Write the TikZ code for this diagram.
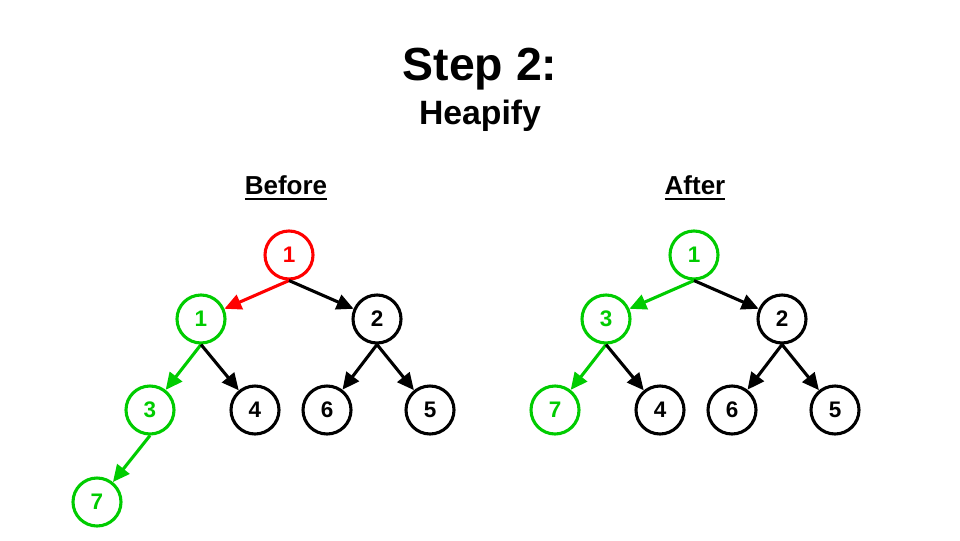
\documentclass[tikz,border=0pt]{standalone}
\usepackage{fontspec}
\setmainfont{Liberation Sans}
\usetikzlibrary{arrows.meta}

\definecolor{hgreen}{RGB}{0,204,0}
\definecolor{hred}{RGB}{255,0,0}

% thick underline for the column titles
\newcommand\thickul[1]{\setbox0\hbox{#1}\rlap{\rule[-3.6pt]{\wd0}{1.4pt}}\box0}

\begin{document}
\begin{tikzpicture}[line width=2.2pt, font=\bfseries]
        \useasboundingbox (0,0) rectangle (24,13.5);

        \node (title)  at (12,11.78)    {\fontsize{33}{38}\selectfont Step 2:};
        \node (sub)    at (12,10.6)      {\fontsize{24}{28}\selectfont Heapify};
        \node (before) at (7.15,8.8)   {\fontsize{18.5}{22}\selectfont\thickul{Before}};
        \node (after)  at (17.375,8.8) {\fontsize{18.5}{22}\selectfont\thickul{After}};

        \begin{scope}[every node/.style={circle,draw,inner sep=0pt,minimum size=1.2cm,font=\bfseries\fontsize{16}{19}\selectfont}]
          % before
          \node[hred]   (b1) at (7.225,7.125)  {1};
          \node[hgreen] (b2) at (5.025,5.525)  {1};
          \node         (b3) at (9.425,5.525)  {2};
          \node[hgreen] (b4) at (3.75,3.25)    {3};
          \node         (b5) at (6.375,3.25)   {4};
          \node         (b6) at (8.175,3.25)   {6};
          \node         (b7) at (10.75,3.25)   {5};
          \node[hgreen] (b8) at (2.425,0.95)   {7};
          % after
          \node[hgreen] (a1) at (17.35,7.125)  {1};
          \node[hgreen] (a2) at (15.15,5.525)  {3};
          \node         (a3) at (19.55,5.525)  {2};
          \node[hgreen] (a4) at (13.875,3.25)  {7};
          \node         (a5) at (16.5,3.25)    {4};
          \node         (a6) at (18.3,3.25)    {6};
          \node         (a7) at (20.875,3.25)  {5};
        \end{scope}

        \begin{scope}[every edge/.style={draw,-{Triangle[length=12pt,width=11pt]}}]
          \path (b1.south) edge[hred]   (b2);
          \path (b1.south) edge         (b3);
          \path (b2.south) edge[hgreen] (b4);
          \path (b2.south) edge         (b5);
          \path (b3.south) edge         (b6);
          \path (b3.south) edge         (b7);
          \path (b4.south) edge[hgreen] (b8);

          \path (a1.south) edge[hgreen] (a2);
          \path (a1.south) edge         (a3);
          \path (a2.south) edge[hgreen] (a4);
          \path (a2.south) edge         (a5);
          \path (a3.south) edge         (a6);
          \path (a3.south) edge         (a7);
        \end{scope}

      \end{tikzpicture}
\end{document}
